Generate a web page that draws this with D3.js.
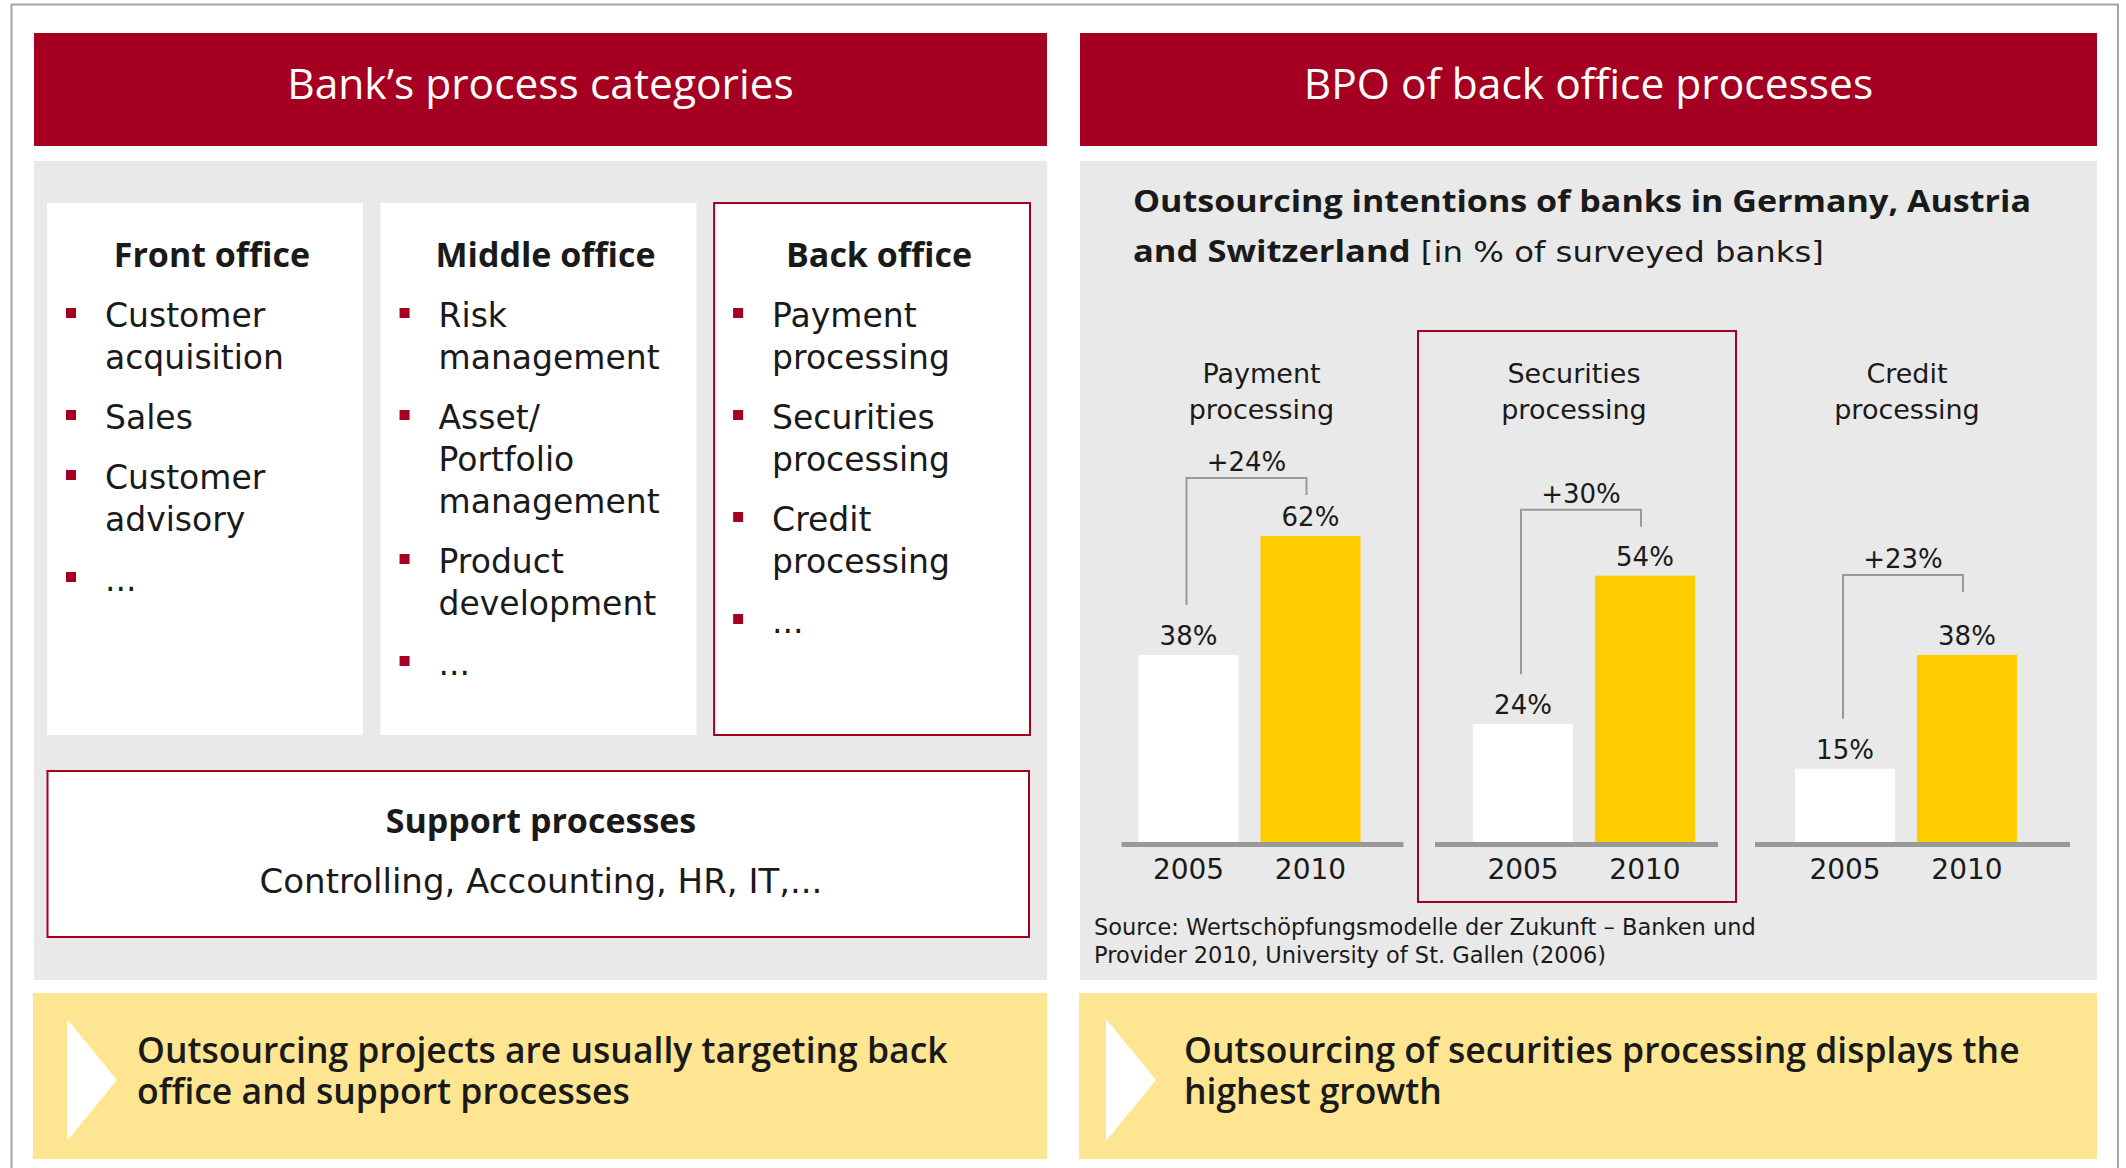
<!DOCTYPE html>
<html>
  <head>
    <meta charset="UTF-8" />
    <style>
      body {
        margin: 0;
        background: #fff;
      }
      svg text {
        font-family: 'DejaVu Sans', sans-serif;
        fill: #1a1a1a;
      }
      svg text.bold {
        font-family: 'Open Sans', 'Noto Sans', sans-serif;
        font-weight: 700;
      }
    </style>
  </head>
  <body>
    <svg></svg>

    <script src="https://d3js.org/d3.v7.min.js"></script>

    <script>
      let width = 2126,
        height = 1168

      // data
      const headers = ["Bank’s process categories", 'BPO of back office processes']
      const columnTitles = ['Front office', 'Middle office', 'Back office']
      const frontItems = [['Customer', 'acquisition'], ['Sales'], ['Customer', 'advisory'], ['...']]
      const middleItems = [['Risk', 'management'], ['Asset/', 'Portfolio', 'management'], ['Product', 'development'], ['...']]
      const backItems = [['Payment', 'processing'], ['Securities', 'processing'], ['Credit', 'processing'], ['...']]
      const supportTitle = 'Support processes'
      const supportText = 'Controlling, Accounting, HR, IT,...'
      const chartTitleBold = ['Outsourcing intentions of banks in Germany, Austria', 'and Switzerland']
      const chartTitleUnit = ' [in % of surveyed banks]'
      const categories = [['Payment', 'processing'], ['Securities', 'processing'], ['Credit', 'processing']]
      const years = ['2005', '2010']
      const share2005 = [38, 24, 15]
      const share2010 = [62, 54, 38]
      const highlighted = 'Securities'
      const source = ['Source: Wertschöpfungsmodelle der Zukunft – Banken und', 'Provider 2010, University of St. Gallen (2006)']
      const conclusions = [
        ['Outsourcing projects are usually targeting back', 'office and support processes'],
        ['Outsourcing of securities processing displays the', 'highest growth'],
      ]

      const red = '#a50021',
        grey = '#e9e9e9',
        yellow = '#ffcc00',
        paleYellow = '#fee591'

      let svg = d3.select('svg').attr('width', width).attr('height', height)

      // outer frame
      svg.append('rect')
        .attr('x', 11.5).attr('y', 4.5)
        .attr('width', 2106.5).attr('height', 1200)
        .attr('fill', 'none').attr('stroke', '#a6a6a6').attr('stroke-width', 2)

      let panels = [
        { x0: 34, x1: 1047 },
        { x0: 1080, x1: 2097 },
      ]

      // red headers, grey bodies, yellow conclusions
      panels.forEach((p, i) => {
        svg.append('rect').attr('x', p.x0).attr('y', 33).attr('width', p.x1 - p.x0).attr('height', 113).attr('fill', red)
        svg.append('text')
          .attr('class', 'bold')
          .attr('x', (p.x0 + p.x1) / 2).attr('y', 99)
          .attr('text-anchor', 'middle')
          .style('font-size', '42.5px').style('font-weight', 500).style('fill', '#fff')
          .text(headers[i])
        svg.append('rect').attr('x', p.x0).attr('y', 161).attr('width', p.x1 - p.x0).attr('height', 819).attr('fill', grey)
        svg.append('rect').attr('x', p.x0 - 1).attr('y', 993).attr('width', p.x1 - p.x0 + 1).attr('height', 166).attr('fill', paleYellow)

        let tx = i == 0 ? 67 : 1106
        svg.append('path')
          .attr('d', `M${tx},1019 L${tx + 50},1080 L${tx},1141 Z`)
          .attr('fill', '#fff')
        let txt = svg.append('text')
          .attr('class', 'bold')
          .attr('y', 1063)
          .style('font-size', '35.5px').style('font-weight', 600)
        txt.selectAll('tspan')
          .data(conclusions[i])
          .join('tspan')
          .attr('x', i == 0 ? 137 : 1184)
          .attr('dy', (d, j) => (j == 0 ? 0 : 41))
          .text((d) => d)
      })

      // left panel: process columns
      let colX = d3.scaleBand().domain(columnTitles).range([47, 1030]).paddingInner(0.053)
      let colItems = [frontItems, middleItems, backItems]

      columnTitles.forEach((t, i) => {
        let x = colX(t)
        let g = svg.append('g')
        g.append('rect')
          .attr('x', x).attr('y', 203)
          .attr('width', colX.bandwidth()).attr('height', 532)
          .attr('fill', '#fff')
          .attr('stroke', t == 'Back office' ? red : 'none')
          .attr('stroke-width', 2)
        g.append('text')
          .attr('class', 'bold')
          .attr('x', x + colX.bandwidth() / 2 + 7).attr('y', 267)
          .attr('text-anchor', 'middle')
          .style('font-size', '34px')
          .text(t)

        let yb = 327
        colItems[i].forEach((lines) => {
          g.append('rect')
            .attr('x', x + 19).attr('y', yb - 19)
            .attr('width', 10).attr('height', 10)
            .attr('fill', red)
          lines.forEach((l, k) => {
            g.append('text')
              .attr('x', x + 58).attr('y', yb + k * 42)
              .style('font-size', '33px')
              .text(l)
          })
          yb += (lines.length - 1) * 42 + 60
        })
      })

      // support processes
      svg.append('rect')
        .attr('x', 47.5).attr('y', 771).attr('width', 981.5).attr('height', 166)
        .attr('fill', '#fff').attr('stroke', red).attr('stroke-width', 2)
      svg.append('text')
        .attr('class', 'bold')
        .attr('x', 541).attr('y', 833).attr('text-anchor', 'middle')
        .style('font-size', '34px')
        .text(supportTitle)
      svg.append('text')
        .attr('x', 541).attr('y', 893).attr('text-anchor', 'middle')
        .style('font-size', '34px')
        .text(supportText)

      // right panel: chart title
      let title = svg.append('g')
      title.append('text')
        .attr('class', 'bold')
        .attr('x', 1133).attr('y', 212)
        .attr('textLength', 898).attr('lengthAdjust', 'spacingAndGlyphs')
        .style('font-size', '31px')
        .text(chartTitleBold[0])
      let t2 = title.append('text')
        .attr('x', 1133).attr('y', 262)
        .attr('textLength', 691).attr('lengthAdjust', 'spacingAndGlyphs')
        .style('font-size', '29px')
      t2.append('tspan')
        .style('font-family', "'Open Sans', sans-serif").style('font-weight', 700).style('font-size', '31px')
        .text(chartTitleBold[1])
      t2.append('tspan').text(chartTitleUnit)

      // bars
      let groupNames = categories.map((c) => c[0])
      let x = d3.scaleOrdinal().domain(groupNames).range([1249.5, 1584, 1906])
      let y = d3.scaleLinear().domain([0, 100]).range([843, 348])
      let bracketLift = [58, 66, 80]
      let labelShift = [12, -10, 1]
      let axisExtent = [[-128, 154], [-149, 134], [-151, 164]]

      groupNames.forEach((name, i) => {
        let cx = x(name)
        let vals = [share2005[i], share2010[i]]
        let xb = d3.scaleBand().domain(years).range([cx - 111, cx + 111]).paddingInner(0.18)
        let g = svg.append('g')

        if (name == highlighted) {
          g.append('rect')
            .attr('x', cx - 166).attr('y', 331)
            .attr('width', 318).attr('height', 571)
            .attr('fill', 'none').attr('stroke', red).attr('stroke-width', 2)
        }

        g.selectAll('.cat')
          .data(categories[i])
          .join('text')
          .attr('x', cx + labelShift[i]).attr('y', (d, k) => 383 + k * 36)
          .attr('text-anchor', 'middle')
          .style('font-size', '27px')
          .text((d) => d)

        g.selectAll('.bar')
          .data(vals)
          .join('rect')
          .attr('x', (d, k) => xb(years[k]))
          .attr('y', (d) => y(d))
          .attr('width', xb.bandwidth())
          .attr('height', (d) => y(0) - y(d))
          .attr('fill', (d, k) => (k == 0 ? '#fff' : yellow))

        g.selectAll('.val')
          .data(vals)
          .join('text')
          .attr('x', (d, k) => xb(years[k]) + xb.bandwidth() / 2)
          .attr('y', (d) => y(d) - 10)
          .attr('text-anchor', 'middle')
          .style('font-size', '26px')
          .text((d) => d + '%')

        // growth bracket
        let xl = xb('2005') + xb.bandwidth() / 2 - 2,
          xr = xb('2010') + xb.bandwidth() / 2 - 4,
          top = y(vals[1]) - bracketLift[i]
        g.append('path')
          .attr('d', `M${xl},${y(vals[0]) - 50} V${top} H${xr} V${top + 17}`)
          .attr('fill', 'none').attr('stroke', '#999').attr('stroke-width', 2)
        g.append('text')
          .attr('x', (xl + xr) / 2).attr('y', top - 7)
          .attr('text-anchor', 'middle')
          .style('font-size', '26px')
          .text('+' + (vals[1] - vals[0]) + '%')

        let axis = g.append('g')
          .attr('transform', 'translate(0,844.5)')
          .call(d3.axisBottom(xb).tickSize(0).tickSizeOuter(0).tickPadding(15))
        axis.select('.domain')
          .attr('d', `M${cx + axisExtent[i][0]},0H${cx + axisExtent[i][1]}`)
          .attr('stroke', '#999').attr('stroke-width', 5)
        axis.selectAll('text')
          .style('font-size', '28px')
          .style('font-family', "'DejaVu Sans', sans-serif")
          .attr('fill', '#1a1a1a')
      })

      svg.append('g')
        .selectAll('text')
        .data(source)
        .join('text')
        .attr('x', 1094).attr('y', (d, i) => 935 + i * 28)
        .style('font-size', '22.5px')
        .text((d) => d)
    </script>
  </body>
</html>
